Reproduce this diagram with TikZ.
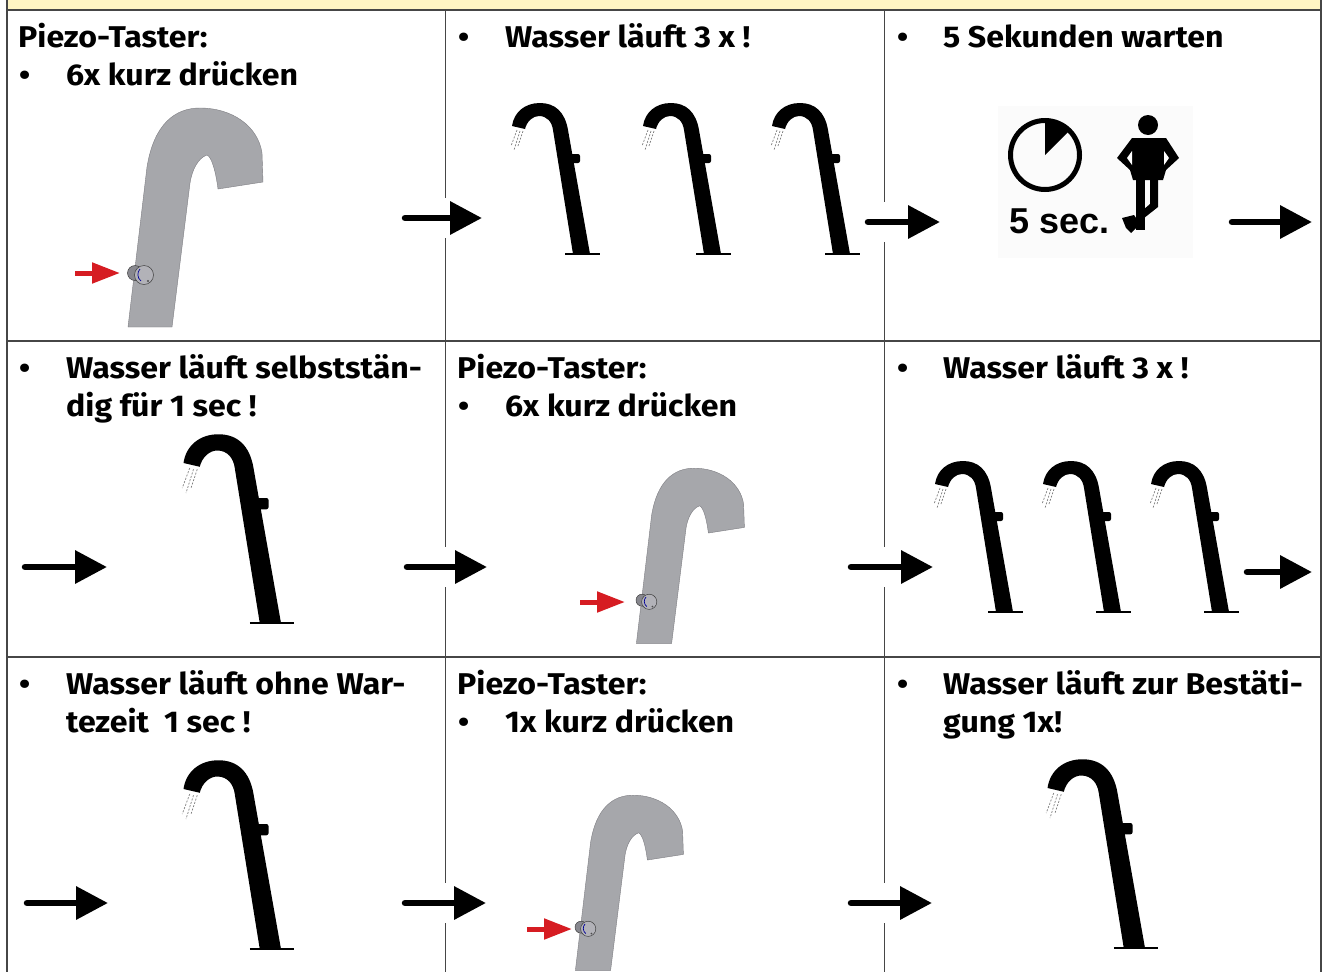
\documentclass[tikz,border=0pt]{standalone}
\usepackage{fontspec}
\setmainfont{Fira Sans}[FakeStretch=1.07]
\newfontfamily\iconfont{Liberation Sans}
\usetikzlibrary{arrows.meta}

\definecolor{stripyellow}{RGB}{255,245,196}
\definecolor{rulegray}{RGB}{70,70,70}
\definecolor{tapgray}{RGB}{166,167,171}
\definecolor{tapedge}{RGB}{125,125,130}
\definecolor{btndark}{RGB}{135,135,142}
\definecolor{btnlight}{RGB}{178,178,184}
\definecolor{pressred}{RGB}{214,28,34}

\tikzset{
  txt/.style={anchor=base west, inner sep=0pt, font=\bfseries\fontsize{30}{38}\selectfont},
  gridline/.style={draw=rulegray, line width=1.3pt},
  flow/.style={line width=6.5pt, line cap=round, -{Triangle[length=32pt,width=32pt]}},
  press/.style={draw=pressred, line width=5pt, -{Triangle[length=28pt,width=20pt,fill=pressred]}},
  % black faucet with water drops, origin at the centre of its foot
  tap/.pic={
    \fill[black] (8,0) -- (-14,-124)
      .. controls (-17,-142) and (-27,-151) .. (-42,-151)
      .. controls (-57,-151) and (-68,-142) .. (-70,-128)
      -- (-57,-125)
      .. controls (-55,-133) and (-49,-138) .. (-43,-138)
      .. controls (-35,-138) and (-30,-132) .. (-29,-124)
      -- (-9,0) -- cycle;
    \fill[black, rounded corners=2pt] (-13,-100) rectangle (-2,-91);
    \draw[black, line width=1.6pt] (-17,0) -- (18,0);
    \draw[gray, line width=0.7pt, dash pattern=on 2pt off 1.5pt]
      (-62,-123) -- (-68,-104) (-65,-124) -- (-71,-108) (-59,-123) -- (-64,-108);
  },
  % grey faucet with the piezo button, origin at the button
  gtap/.pic={
    \filldraw[fill=tapgray, draw=tapedge, line width=0.4pt]
      (-12,53) -- (7,-107)
      .. controls (14,-150) and (35,-166) .. (60,-166)
      .. controls (92,-166) and (118,-148) .. (122,-121)
      -- (123,-92) -- (78,-85)
      .. controls (76,-101) and (72,-117) .. (67,-119)
      .. controls (58,-116) and (52,-104) .. (50,-91)
      -- (32,53) -- cycle;
    \filldraw[fill=btndark, draw=black!75, line width=0.5pt] (-5,-1) circle[radius=7.5];
    \filldraw[fill=btnlight, draw=black!75, line width=0.5pt] (4,1) circle[radius=9.5];
    \draw[blue!60!black, line width=0.7pt] (0,-5) .. controls (-3,-2) and (-3,4) .. (1,7);
    \fill[black!70] (8,7) circle[radius=1.2];
  }
}

\begin{document}
\begin{tikzpicture}[x=1pt,y=-1pt]
\useasboundingbox (0,0) rectangle (1327,972);
\fill[white] (0,0) rectangle (1327,972);
\fill[stripyellow] (7,0) rectangle (1321,10);

% table rules
\draw[gridline, line width=2pt] (7,10) -- (1321,10);
\draw[gridline] (7,341) -- (1321,341);
\draw[gridline] (7,657) -- (1321,657);
\draw[gridline] (7,0) -- (7,972);
\draw[gridline] (1321,0) -- (1321,972);
\draw[gridline, line width=1pt] (445,10) -- (445,198) (445,238) -- (445,547)
  (445,587) -- (445,883) (445,923) -- (445,972);
\draw[gridline, line width=1pt] (884,10) -- (884,202) (884,242) -- (884,547)
  (884,587) -- (884,883) (884,923) -- (884,972);

% row 1 texts
\node[txt] (t11a) at (18,47) {Piezo-Taster:};
\node[txt] (b11) at (19,85) {•};
\node[txt] (t11b) at (66,85) {6x kurz drücken};
\node[txt] (b12) at (458,47) {•};
\node[txt] (t12) at (505,47) {Wasser läuft 3 x !};
\node[txt] (b13) at (897,47) {•};
\node[txt] (t13) at (943,47) {5 Sekunden warten};

% row 2 texts
\node[txt] (b21) at (19,378) {•};
\node[txt] (t21a) at (66,378) {Wasser läuft selbststän-};
\node[txt] (t21b) at (66,416) {dig für 1 sec !};
\node[txt] (t22a) at (457,378) {Piezo-Taster:};
\node[txt] (b22) at (458,416) {•};
\node[txt] (t22b) at (505,416) {6x kurz drücken};
\node[txt] (b23) at (897,378) {•};
\node[txt] (t23) at (943,378) {Wasser läuft 3 x !};

% row 3 texts
\node[txt] (b31) at (19,694) {•};
\node[txt] (t31a) at (66,694) {Wasser läuft ohne War-};
\node[txt] (t31b) at (66,732) {tezeit\ \ 1 sec !};
\node[txt] (t32a) at (457,694) {Piezo-Taster:};
\node[txt] (b32) at (458,732) {•};
\node[txt] (t32b) at (505,732) {1x kurz drücken};
\node[txt] (b33) at (897,694) {•};
\node[txt] (t33a) at (943,694) {Wasser läuft zur Bestäti-};
\node[txt] (t33b) at (943,732) {gung 1x!};

% faucets
\pic at (140,274) {gtap};
\pic at (582,254) {tap};
\pic at (713,254) {tap};
\pic at (842,254) {tap};
\pic[scale=1.25] at (271,623) {tap};
\pic[scale=0.8] at (646,601) {gtap};
\pic at (1005,612) {tap};
\pic at (1113,612) {tap};
\pic at (1221,612) {tap};
\pic[scale=1.25] at (271,949) {tap};
\pic[scale=0.8] at (585,928) {gtap};
\pic[scale=1.25] at (1135,948) {tap};

% waiting icon: clock and standing person
\fill[black!1.5] (998,106) rectangle (1193,258);
\draw[black, line width=5pt] (1045,155) circle[radius=34.5];
\fill[black] (1045,155) -- (1045,121) arc[start angle=-90, end angle=-45, radius=34] -- cycle;
\node[anchor=base west, inner sep=0pt, font=\iconfont\bfseries\fontsize{36}{36}\selectfont] (fivesec) at (1009,233) {5 sec.};
\fill[black] (1148,125) circle[radius=10];
\fill[black] (1132,138) -- (1166,138) -- (1179,158) -- (1166,170) -- (1163,180)
  -- (1133,180) -- (1130,170) -- (1117,158) -- cycle;
\fill[white] (1127,158) -- (1132,151) -- (1132,165) -- cycle;
\fill[white] (1169,158) -- (1164,151) -- (1164,165) -- cycle;
\fill[black] (1136,180) rectangle (1145,230);
\fill[black] (1150,180) -- (1158,180) -- (1158,207) -- (1139,222) -- (1136,216) -- (1150,204) -- cycle;
\fill[black] (1122,218) -- (1134,215) -- (1140,224) -- (1131,233) -- (1126,228) -- cycle;

% red arrows pointing at the piezo buttons
\coordinate (r1s) at (75,273);  \coordinate (r1e) at (120,273);
\coordinate (r2s) at (580,602); \coordinate (r2e) at (625,602);
\coordinate (r3s) at (527,929); \coordinate (r3e) at (572,929);
\draw[press] (r1s) -- (r1e);
\draw[press] (r2s) -- (r2e);
\draw[press] (r3s) -- (r3e);

% black step arrows
\coordinate (a1s) at (405,218);  \coordinate (a1e) at (482,218);
\coordinate (a2s) at (868,222);  \coordinate (a2e) at (940,222);
\coordinate (a3s) at (1232,222); \coordinate (a3e) at (1312,222);
\coordinate (a4s) at (25,567);   \coordinate (a4e) at (107,567);
\coordinate (a5s) at (407,567);  \coordinate (a5e) at (487,567);
\coordinate (a6s) at (851,567);  \coordinate (a6e) at (933,567);
\coordinate (a7s) at (1247,572); \coordinate (a7e) at (1312,572);
\coordinate (a8s) at (27,903);   \coordinate (a8e) at (108,903);
\coordinate (a9s) at (405,903);  \coordinate (a9e) at (486,903);
\coordinate (a10s) at (851,903); \coordinate (a10e) at (932,903);
\foreach \i in {1,...,10} \draw[flow] (a\i s) -- (a\i e);
\end{tikzpicture}
\end{document}
